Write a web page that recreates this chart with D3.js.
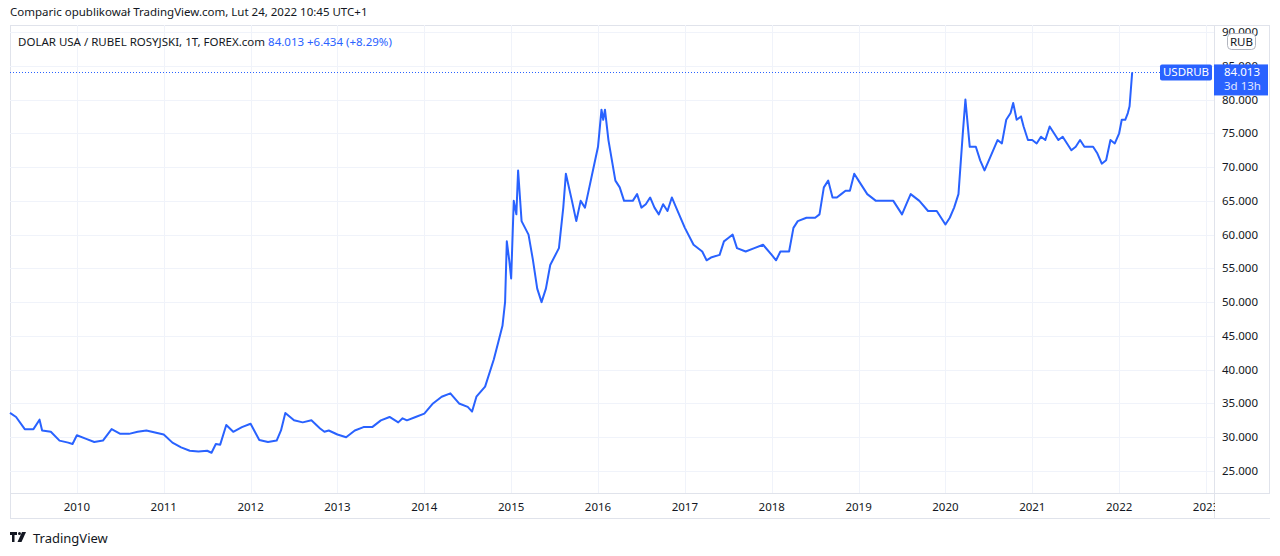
<!DOCTYPE html>
<html><head><meta charset="utf-8">
<script src="https://cdn.jsdelivr.net/npm/d3@7"></script>
<style>
body{margin:0;background:#fff;font-family:"Noto Sans",Roboto,sans-serif;}
</style></head><body>
<svg id="c" width="1280" height="556"></svg>
<script>
// weekly USD/RUB (decimal years)
const dates = [2009.23,2009.3,2009.4,2009.5,2009.57,2009.6,2009.7,2009.8,2009.9,2009.95,2010.0,2010.1,2010.2,2010.3,2010.4,2010.5,2010.6,2010.7,2010.8,2010.9,2011.0,2011.1,2011.2,2011.3,2011.4,2011.5,2011.55,2011.6,2011.65,2011.72,2011.8,2011.9,2012.0,2012.1,2012.2,2012.3,2012.35,2012.4,2012.5,2012.6,2012.7,2012.8,2012.85,2012.9,2013.0,2013.1,2013.2,2013.3,2013.4,2013.5,2013.6,2013.7,2013.75,2013.8,2013.9,2014.0,2014.1,2014.2,2014.3,2014.4,2014.5,2014.55,2014.6,2014.7,2014.8,2014.85,2014.9,2014.93,2014.95,2014.98,2015.0,2015.03,2015.06,2015.08,2015.12,2015.2,2015.25,2015.3,2015.35,2015.4,2015.45,2015.55,2015.6,2015.63,2015.7,2015.75,2015.8,2015.85,2015.9,2015.95,2016.0,2016.04,2016.06,2016.08,2016.12,2016.2,2016.25,2016.3,2016.4,2016.45,2016.5,2016.55,2016.6,2016.65,2016.7,2016.75,2016.8,2016.85,2016.9,2017.0,2017.1,2017.2,2017.25,2017.3,2017.4,2017.45,2017.5,2017.55,2017.6,2017.7,2017.8,2017.9,2018.0,2018.05,2018.1,2018.2,2018.25,2018.3,2018.4,2018.5,2018.55,2018.6,2018.65,2018.7,2018.75,2018.8,2018.85,2018.9,2018.95,2019.0,2019.1,2019.2,2019.3,2019.4,2019.5,2019.55,2019.6,2019.7,2019.8,2019.9,2020.0,2020.05,2020.1,2020.15,2020.2,2020.23,2020.28,2020.35,2020.4,2020.45,2020.5,2020.6,2020.65,2020.7,2020.75,2020.78,2020.82,2020.87,2020.9,2020.95,2021.0,2021.05,2021.1,2021.15,2021.2,2021.25,2021.3,2021.35,2021.4,2021.45,2021.5,2021.55,2021.6,2021.65,2021.7,2021.75,2021.8,2021.85,2021.9,2021.95,2022.0,2022.03,2022.07,2022.1,2022.12,2022.15];
const usdrub = [33.6,33.0,31.2,31.2,32.6,31.0,30.8,29.5,29.2,29.0,30.3,29.8,29.3,29.5,31.2,30.5,30.5,30.8,31.0,30.7,30.4,29.2,28.5,28.0,27.9,28.0,27.7,29.0,28.9,31.8,30.8,31.5,32.0,29.6,29.3,29.5,31.0,33.6,32.5,32.2,32.5,31.3,30.8,31.0,30.4,30.0,31.0,31.5,31.5,32.5,33.0,32.2,32.8,32.5,33.0,33.5,35.0,36.0,36.5,35.0,34.5,33.8,36.0,37.5,41.5,44.0,46.5,50.0,59.0,56.0,53.5,65.0,63.0,69.5,62.0,60.0,56.3,52.0,50.0,52.0,55.5,58.0,64.0,69.0,65.0,62.0,65.0,64.0,67.0,70.0,73.0,78.5,77.0,78.5,74.0,68.0,67.0,65.0,65.0,66.0,64.0,64.5,65.5,64.0,63.0,64.5,63.5,65.5,64.0,61.0,58.5,57.5,56.2,56.6,57.0,59.0,59.5,60.0,58.0,57.5,58.0,58.5,57.0,56.2,57.5,57.5,61.0,62.0,62.5,62.5,63.0,67.0,68.0,65.5,65.5,66.0,66.5,66.5,69.0,68.0,66.0,65.0,65.0,65.0,63.0,64.5,66.0,65.0,63.5,63.5,61.5,62.5,64.0,66.0,75.0,80.0,73.0,73.0,71.0,69.5,71.0,74.0,73.5,77.0,78.0,79.5,77.0,77.5,76.0,74.0,74.0,73.5,74.5,74.0,76.0,75.0,74.0,74.5,73.5,72.5,73.0,74.0,73.0,73.0,73.0,72.0,70.5,71.0,74.0,73.5,75.0,77.0,77.0,78.0,79.0,84.013];
const yearTicks = [2010,2011,2012,2013,2014,2015,2016,2017,2018,2019,2020,2021,2022,2023];
const priceTicks = [25,30,35,40,45,50,55,60,65,70,75,80,85,90];
const last = 84.013;

const blue = '#2962ff', grid = '#f0f3fa', txt = '#131722';
const svg = d3.select('#c');
const L = 10, R = 1214, T = 25, B = 493;
const x = d3.scaleLinear().domain([2009.23, 2023]).range([L, 1206]);
const y = d3.scaleLinear().domain([25, 90]).range([471, 32]);

// frame
svg.append('rect').attr('x', 10.5).attr('y', 25.5).attr('width', 1259).attr('height', 493)
  .attr('fill', 'none').attr('stroke', '#e0e3eb');
svg.append('line').attr('x1', R + .5).attr('x2', R + .5).attr('y1', T).attr('y2', 519).attr('stroke', '#e0e3eb');
svg.append('line').attr('x1', L).attr('x2', 1270).attr('y1', B + .5).attr('y2', B + .5).attr('stroke', '#e0e3eb');

// grid
svg.append('g').selectAll('line').data(priceTicks).join('line')
  .attr('x1', L).attr('x2', R).attr('y1', d => Math.round(y(d)) + .5).attr('y2', d => Math.round(y(d)) + .5)
  .attr('stroke', grid);
svg.append('g').selectAll('line').data(yearTicks).join('line')
  .attr('x1', d => Math.round(x(d)) + .5).attr('x2', d => Math.round(x(d)) + .5).attr('y1', T).attr('y2', B)
  .attr('stroke', grid);

// axes labels
svg.append('g').selectAll('text').data(priceTicks).join('text')
  .attr('x', 1258).attr('y', d => y(d) + 4).attr('text-anchor', 'end')
  .attr('font-size', 11.5).attr('fill', txt).text(d => d3.format('.3f')(d));
svg.append('g').selectAll('text').data(yearTicks).join('text')
  .attr('x', d => x(d)).attr('y', 511).attr('text-anchor', 'middle')
  .attr('font-size', 11.5).attr('fill', txt).text(d => d);
// clip the last year label at the price axis
svg.append('rect').attr('x', R + 1).attr('y', 494).attr('width', 55).attr('height', 24).attr('fill', '#fff');

// last price dotted line
svg.append('line').attr('x1', L).attr('x2', 1160).attr('y1', Math.round(y(last)) + .5).attr('y2', Math.round(y(last)) + .5)
  .attr('stroke', blue).attr('stroke-dasharray', '1,2');

// series
const pts = dates.map((d, i) => [d, usdrub[i]]);
svg.append('path').datum(pts).attr('fill', 'none').attr('stroke', blue).attr('stroke-width', 2)
  .attr('stroke-linejoin', 'round')
  .attr('d', d3.line().x(d => x(d[0])).y(d => y(d[1])));

// RUB badge
svg.append('rect').attr('x', 1227.5).attr('y', 33.5).attr('width', 28).attr('height', 16).attr('rx', 4)
  .attr('fill', '#fff').attr('stroke', '#b2b5be');
svg.append('text').attr('x', 1241.5).attr('y', 45.5).attr('text-anchor', 'middle').attr('font-size', 11.5).attr('fill', txt).text('RUB');

// labels
const ly = y(last);
svg.append('rect').attr('x', 1160).attr('y', ly - 8).attr('width', 52).attr('height', 16).attr('rx', 2).attr('fill', blue);
svg.append('text').attr('x', 1186).attr('y', ly + 4).attr('text-anchor', 'middle').attr('font-size', 11.5).attr('fill', '#fff').text('USDRUB');
svg.append('rect').attr('x', 1214).attr('y', ly - 8).attr('width', 54).attr('height', 31).attr('fill', blue);
svg.append('text').attr('x', 1224).attr('y', ly + 4).attr('font-size', 11.5).attr('fill', '#fff').text(d3.format('.3f')(last));
svg.append('text').attr('x', 1224).attr('y', ly + 18).attr('font-size', 11.5).attr('fill', '#fff').attr('opacity', .85).text('3d 13h');

// header
svg.append('text').attr('x', 10).attr('y', 16).attr('font-size', 11.5).attr('fill', txt)
  .text('Comparic opublikował TradingView.com, Lut 24, 2022 10:45 UTC+1');
const h = svg.append('text').attr('x', 18).attr('y', 46).attr('font-size', 11.5).attr('fill', txt);
h.append('tspan').text('DOLAR USA / RUBEL ROSYJSKI, 1T, FOREX.com  ');
h.append('tspan').attr('fill', blue).text('84.013  +6.434 (+8.29%)');

// logo
const lg = svg.append('g').attr('transform', 'translate(10,532)');
lg.append('path').attr('d', 'M0,0h7v3h-2.5v7h-2.5v-7h-2z').attr('fill', txt);
lg.append('circle').attr('cx', 9.5).attr('cy', 1.5).attr('r', 1.5).attr('fill', txt);
lg.append('path').attr('d', 'M12,0h4l-4.5,10h-4z').attr('fill', txt);
svg.append('text').attr('x', 33).attr('y', 543).attr('font-size', 13).attr('fill', txt).text('TradingView');
</script>
</body></html>
